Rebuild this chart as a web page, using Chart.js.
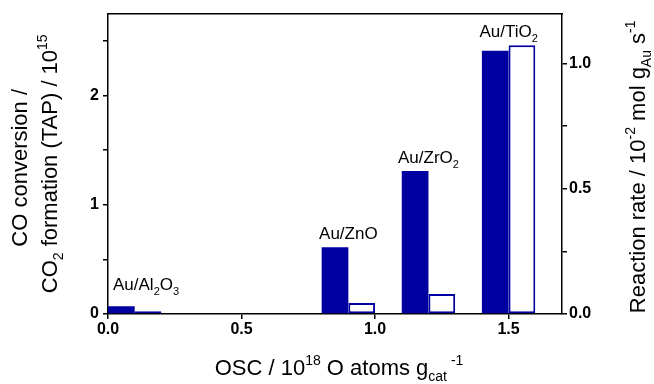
<!DOCTYPE html>
<html>
<head>
<meta charset="utf-8">
<script src="https://cdn.jsdelivr.net/npm/chart.js@4/dist/chart.umd.min.js"></script>
<style>
  html, body { margin: 0; padding: 0; background: #fff; }
  #wrap { width: 654px; height: 384px; }
</style>
</head>
<body>
<div id="wrap"><canvas id="oscChart" width="654" height="384"></canvas></div>
<script>
// values
const catalysts = ["Au/Al2O3", "Au/ZnO", "Au/ZrO2", "Au/TiO2"];
const oscValues = [0.1, 0.9, 1.2, 1.5];          // 10^18 O atoms g_cat^-1
const coConversion = [0.07, 0.61, 1.31, 2.41];  // left axis, 10^15
const reactionRate = [0.011, 0.044, 0.08, 1.074]; // right axis, 10^-2 mol g_Au^-1 s^-1
const xTicks = [0, 0.5, 1.0, 1.5];
const leftTicks = [0, 0.5, 1, 1.5, 2, 2.5];
const rightTicks = [0, 0.25, 0.5, 0.75, 1.0];

const BLUE = "#0000a0";
const FONT = "'Liberation Sans', Arial, sans-serif";
const tickFont = { family: FONT, size: 16, weight: "bold" };
const TITLE_SIZE = 22;

// "_{..}" subscript, "^{..}" superscript
function parseRich(str) {
  const runs = [];
  const re = /([_^])\{([^}]*)\}|([^_^]+)/g;
  let m;
  while ((m = re.exec(str))) {
    if (m[3]) runs.push({ text: m[3], shift: 0 });
    else runs.push({ text: m[2], shift: m[1] === "_" ? 1 : -1 });
  }
  return runs;
}

function measureRich(ctx, str, size) {
  const small = Math.round(size * 0.65);
  let total = 0;
  const runs = parseRich(str);
  runs.forEach(r => {
    ctx.font = `${r.shift ? small : size}px ${FONT}`;
    r.w = ctx.measureText(r.text).width;
    total += r.w;
  });
  return { runs, total, small };
}

function drawRich(ctx, str, x, y, size, rotate, align) {
  ctx.save();
  const { runs, total, small } = measureRich(ctx, str, size);
  ctx.translate(x, y);
  if (rotate) ctx.rotate(rotate);
  let cx = align === "left" ? 0 : -total / 2;
  ctx.fillStyle = "#000";
  ctx.textAlign = "left";
  ctx.textBaseline = "alphabetic";
  runs.forEach(r => {
    ctx.font = `${r.shift ? small : size}px ${FONT}`;
    const dy = r.shift === 1 ? size * 0.28 : r.shift === -1 ? -size * 0.45 : 0;
    ctx.fillText(r.text, cx, dy);
    cx += r.w;
  });
  ctx.restore();
}

const labelPlugin = {
  id: "barLabels",
  afterDatasetsDraw(chart) {
    const ctx = chart.ctx;
    const m0 = chart.getDatasetMeta(0).data;
    const m1 = chart.getDatasetMeta(1).data;
    const zeroY = chart.scales.y.getPixelForValue(0);
    catalysts.forEach((name, i) => {
      const a = m0[i], b = m1[i];
      const left = a.x - a.width / 2;
      const right = b.x + b.width / 2;
      const top = Math.min(a.y, b.y);
      const text = name.replace(/(\d+)/g, "_{$1}");
      const w = measureRich(ctx, text, 17).total;
      let x0 = (left + right) / 2 - w / 2;
      x0 = Math.max(x0, chart.chartArea.left + 5);
      const y0 = Math.min(top - 8, zeroY - 24);
      drawRich(ctx, text, x0, y0, 17, 0, "left");
    });
  }
};

const titlePlugin = {
  id: "axisTitles",
  afterDraw(chart) {
    const ctx = chart.ctx;
    const area = chart.chartArea;
    const midY = (area.top + area.bottom) / 2;
    drawRich(ctx, "CO conversion /", 27, midY + 4, TITLE_SIZE, -Math.PI / 2);
    drawRich(ctx, "CO_{2} formation (TAP) / 10^{15}", 57, midY, TITLE_SIZE, -Math.PI / 2);
    drawRich(ctx, "Reaction rate / 10^{-2} mol g_{Au} s^{-1}", 645, midY + 3, TITLE_SIZE, -Math.PI / 2);
    drawRich(ctx, "OSC / 10^{18} O atoms g_{cat}^{ -1}", (area.left + area.right) / 2 + 4, 375, TITLE_SIZE, 0);
  }
};

const axisLine = { color: "#000", width: 1.5 };

new Chart(document.getElementById("oscChart").getContext("2d"), {
  type: "bar",
  data: {
    labels: catalysts,
    datasets: [
      {
        label: "CO conversion / CO2 formation (TAP)",
        data: oscValues.map((x, i) => ({ x: x, y: coConversion[i] })),
        yAxisID: "y",
        backgroundColor: BLUE,
        borderColor: BLUE,
        borderWidth: 0
      },
      {
        label: "Reaction rate",
        data: oscValues.map((x, i) => ({ x: x, y: reactionRate[i] })),
        yAxisID: "y1",
        backgroundColor: "#fff",
        borderColor: BLUE,
        borderWidth: 2,
        borderSkipped: false
      }
    ]
  },
  options: {
    responsive: false,
    animation: false,
    layout: { padding: 0 },
    datasets: { bar: { categoryPercentage: 2 / 3, barPercentage: 1 } },
    plugins: { legend: { display: false }, tooltip: { enabled: false } },
    scales: {
      x: {
        type: "linear",
        position: "bottom",
        min: 0,
        max: 1.7,
        offset: false,
        afterBuildTicks: s => { s.ticks = xTicks.map(v => ({ value: v })); },
        afterFit: s => { s.height = 70; },
        grid: { offset: false, drawOnChartArea: false, tickLength: 5, color: "#000", lineWidth: 1.5 },
        border: axisLine,
        ticks: { font: tickFont, color: "#000", padding: 1, maxRotation: 0, callback: v => v.toFixed(1) }
      },
      x2: {
        type: "linear",
        position: "top",
        min: 0,
        max: 1.7,
        afterFit: s => { s.height = 13; },
        grid: { drawOnChartArea: false, drawTicks: false },
        border: axisLine,
        ticks: { display: false }
      },
      y: {
        type: "linear",
        position: "left",
        min: 0,
        max: 2.75,
        afterBuildTicks: s => { s.ticks = leftTicks.map(v => ({ value: v })); },
        afterFit: s => { s.width = 108; },
        grid: { drawOnChartArea: false, tickLength: 5, color: "#000", lineWidth: 1.5 },
        border: axisLine,
        ticks: { font: tickFont, color: "#000", padding: 4, callback: v => Number.isInteger(v) ? String(v) : "" }
      },
      y1: {
        type: "linear",
        position: "right",
        min: 0,
        max: 1.2,
        afterBuildTicks: s => { s.ticks = rightTicks.map(v => ({ value: v })); },
        afterFit: s => { s.width = 92; },
        grid: { drawOnChartArea: false, tickLength: 5, color: "#000", lineWidth: 1.5 },
        border: axisLine,
        ticks: { font: tickFont, color: "#000", padding: 2, callback: v => Number.isInteger(v * 2) ? v.toFixed(1) : "" }
      }
    }
  },
  plugins: [labelPlugin, titlePlugin]
});
</script>
</body>
</html>
